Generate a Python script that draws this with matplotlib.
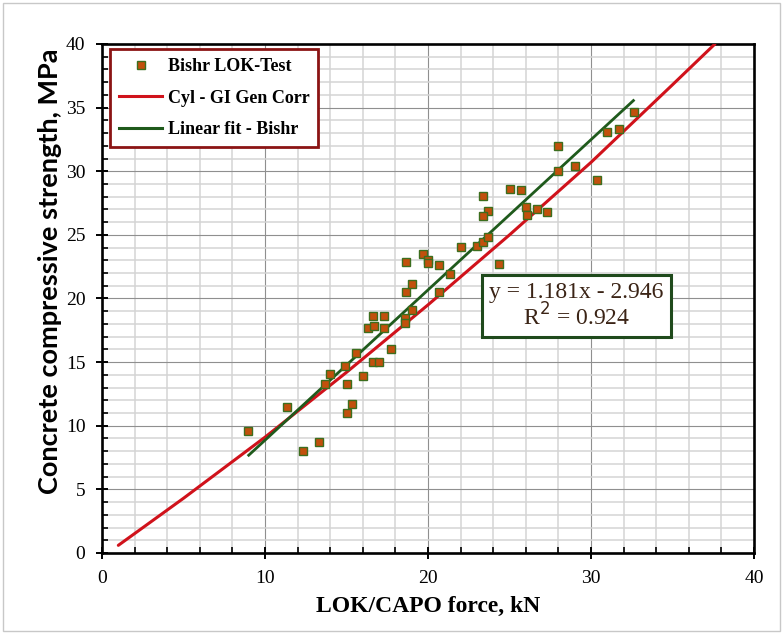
import numpy as np
import matplotlib
matplotlib.use('Agg')
import matplotlib.pyplot as plt
import matplotlib.ticker as mticker
from matplotlib.lines import Line2D
from matplotlib.patches import Rectangle

# LOK-Test data (Bishr)
lok_x = [8.98, 11.33, 12.35, 13.3, 13.68, 14.0, 14.9, 15.0, 15.36, 15.0,
         15.6, 16.0, 16.3, 16.6, 16.7, 16.6, 17.0, 17.3, 17.3, 17.7,
         18.6, 18.6, 19.0, 18.65, 19.02, 20.65, 21.35, 18.65, 19.67, 20.0,
         20.0, 20.65, 22.04, 22.98, 23.35, 23.68, 24.33, 23.35, 23.68, 23.35,
         25.03, 25.69, 26.01, 26.05, 26.7, 27.3, 27.99, 27.99, 29.04, 30.35,
         31.0, 31.7, 32.66]
lok_y = [9.6, 11.5, 8.05, 8.75, 13.3, 14.1, 14.7, 13.3, 11.7, 11.0,
         15.7, 13.9, 17.7, 18.6, 17.8, 15.0, 15.0, 18.6, 17.7, 16.0,
         18.5, 18.1, 19.1, 20.5, 21.15, 20.5, 21.95, 22.85, 23.5, 23.0,
         22.75, 22.6, 24.07, 24.15, 24.4, 24.8, 22.7, 28.05, 26.9, 26.45,
         28.6, 28.55, 27.2, 26.6, 27.0, 26.8, 32.0, 30.05, 30.45, 29.35,
         33.05, 33.3, 34.65]

# Cylinder general correlation curve (GI)
gi_x = [1, 5, 10, 15, 20, 25, 30, 35, 37.6]
gi_y = [0.6, 4.3, 9.1, 14.2, 19.5, 25.0, 30.7, 36.8, 40.0]

# linear trend line as printed on the chart
fit_slope = 1.181
fit_icpt = -2.946
fit_r2 = 0.924
fit_xrange = [9.0, 32.6]

serif = 'Liberation Serif'

fig = plt.figure(figsize=(7.83, 6.34), dpi=100)
ax = fig.add_axes([0.1303, 0.1278, 0.8327, 0.8028])

ax.set_xlim(0, 40)
ax.set_ylim(0, 40)
ax.xaxis.set_major_locator(mticker.MultipleLocator(10))
ax.xaxis.set_minor_locator(mticker.MultipleLocator(2))
ax.yaxis.set_major_locator(mticker.MultipleLocator(5))
ax.yaxis.set_minor_locator(mticker.MultipleLocator(1))

ax.grid(which='minor', color='#d4d4d4', linewidth=1.1, zorder=0)
ax.grid(which='major', color='#8f8f8f', linewidth=0.8, zorder=0)
ax.set_axisbelow(True)

for s in ax.spines.values():
    s.set_linewidth(1.9)
    s.set_color('black')

ax.tick_params(which='major', direction='inout', length=8, width=1.4,
               labelsize=14, pad=8)
ax.tick_params(which='minor', direction='in', length=4, width=1.2)
for lab in ax.get_xticklabels() + ax.get_yticklabels():
    lab.set_fontfamily(serif)

# GI correlation curve
ax.plot(gi_x, gi_y, color='#d0121b', linewidth=2.2, zorder=3,
        solid_capstyle='round', solid_joinstyle='round')

# linear fit
fx = np.array(fit_xrange)
ax.plot(fx, fit_slope * fx + fit_icpt, color='#1f5a1c', linewidth=2.0,
        zorder=4)

# test points
ax.plot(lok_x, lok_y, linestyle='none', marker='s', markersize=5.5,
        markerfacecolor='#c2500c', markeredgecolor='#3c6e1e',
        markeredgewidth=1.0, zorder=5)

ax.set_xlabel('LOK/CAPO force, kN', fontsize=17, fontweight='bold',
              family=serif, labelpad=7)
ax.set_ylabel('Concrete compressive strength, MPa', fontsize=19.5,
              fontweight='bold', family='Lato')
ax.yaxis.set_label_coords(-0.062, 0.553)

handles = [
    Line2D([0], [0], linestyle='none', marker='s', markersize=5.5,
           markerfacecolor='#c2500c', markeredgecolor='#3c6e1e',
           label='Bishr LOK-Test'),
    Line2D([0], [0], color='#d0121b', linewidth=2.2, label='Cyl - GI Gen Corr'),
    Line2D([0], [0], color='#1f5a1c', linewidth=2.2, label='Linear fit - Bishr'),
]
leg = ax.legend(handles=handles, loc='upper left', bbox_to_anchor=(0.012, 0.99),
                borderaxespad=0, fancybox=False, framealpha=1,
                prop={'family': serif, 'weight': 'bold', 'size': 13},
                handlelength=2.4, handletextpad=0.3, labelspacing=0.8,
                borderpad=0.5)
leg.get_frame().set_edgecolor('#8b1414')
leg.get_frame().set_linewidth(2.0)

eq_text = f'y = {fit_slope:.3f}x - {-fit_icpt:.3f}\nR$^2$ = {fit_r2:.3f}'
ax.text(29.1, 19.4, eq_text,
        ha='center', va='center', fontsize=17, family=serif, color='#3b2416',
        linespacing=1.0, zorder=6,
        bbox=dict(boxstyle='square,pad=0.3', facecolor='white',
                  edgecolor='#1f4a1c', linewidth=2.2))

fig.patches.append(Rectangle((0.004, 0.004), 0.992, 0.992, transform=fig.transFigure,
                             fill=False, edgecolor='#c8c8c8', linewidth=1.0))

fig.savefig('out.png', dpi=100)
